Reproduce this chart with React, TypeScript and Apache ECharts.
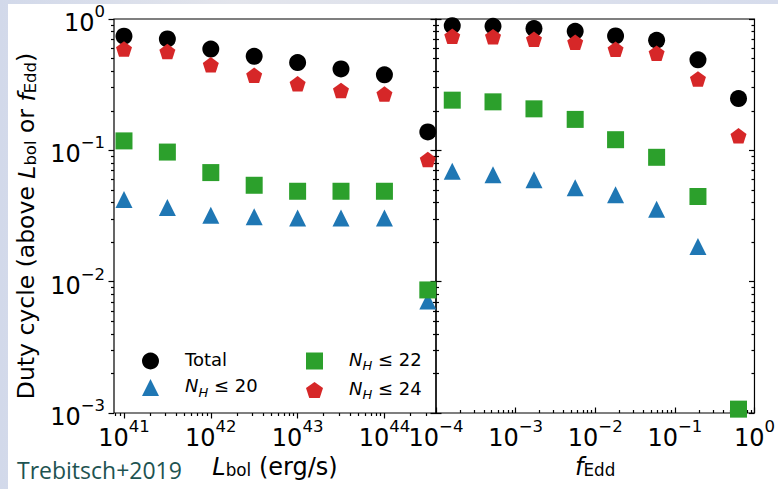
import React, { useEffect, useRef } from 'react';
import * as echarts from 'echarts';

// Bin centres of the two samples
const lbolValues = [1e41, 3.16e41, 1e42, 3.16e42, 1e43, 3.16e43, 1e44, 3.16e44];
const fEddValues = [1.6e-4, 5.2e-4, 1.7e-3, 5.6e-3, 1.8e-2, 5.9e-2, 0.195, 0.63];

// Duty cycle above a given bolometric luminosity
const totalByLbol = [0.74, 0.705, 0.59, 0.52, 0.466, 0.417, 0.376, 0.138];
const nh20ByLbol = [0.0422, 0.0367, 0.032, 0.0312, 0.0306, 0.0306, 0.0306, 0.00713];
const nh22ByLbol = [0.118, 0.097, 0.0677, 0.0542, 0.0488, 0.0488, 0.0488, 0.00865];
const nh24ByLbol = [0.59, 0.565, 0.448, 0.373, 0.321, 0.286, 0.268, 0.085];

// Duty cycle above a given Eddington ratio
const totalByFEdd = [0.89, 0.88, 0.845, 0.806, 0.743, 0.689, 0.489, 0.248];
const nh20ByFEdd = [0.0693, 0.0653, 0.0596, 0.052, 0.0458, 0.0356, 0.0185, null];
const nh22ByFEdd = [0.241, 0.234, 0.207, 0.172, 0.1205, 0.0885, 0.0445, 0.00107];
const nh24ByFEdd = [0.738, 0.734, 0.7, 0.665, 0.588, 0.549, 0.35, 0.129];

// Axis ranges and labelled ticks
const lbolRange = [10 ** 40.885, 10 ** 44.594];
const fEddRange = [1e-4, 1];
const dutyRange = [1e-3, 1];
const lbolMajorTicks = [1e41, 1e42, 1e43, 1e44];
const fEddMajorTicks = [1e-4, 1e-3, 1e-2, 1e-1, 1];
const dutyMajorTicks = [1e-3, 1e-2, 1e-1, 1];

const seriesNames = ['Total', 'N_H ≤ 20', 'N_H ≤ 22', 'N_H ≤ 24'];
const seriesColors = ['#000000', '#1f77b4', '#2ca02c', '#d62728'];

const FONT = '"DejaVu Sans", sans-serif';
const PENTAGON =
  'path://M0,-1L0.951,-0.309L0.588,0.809L-0.588,0.809L-0.951,-0.309Z';

// 2..9 x 10^n positions strictly inside a log range
function minorTicks(lo: number, hi: number): number[] {
  const out: number[] = [];
  for (let e = Math.floor(Math.log10(lo)); e <= Math.ceil(Math.log10(hi)); e++) {
    for (let k = 2; k <= 9; k++) {
      const v = k * Math.pow(10, e);
      if (v > lo && v < hi) out.push(v);
    }
  }
  return out;
}

function powerLabel(v: number): string {
  const e = Math.round(Math.log10(v));
  const s = e < 0 ? '\u2212' + -e : String(e);
  return `{b|10}{e|${s}}`;
}

const powRich = {
  b: { fontSize: 24, lineHeight: 32, verticalAlign: 'bottom', fontFamily: FONT, color: '#000' },
  e: { fontSize: 16.5, lineHeight: 21, verticalAlign: 'top', fontFamily: FONT, color: '#000' },
};

function nameRich(size: number) {
  return {
    t: { fontSize: size, lineHeight: 30, verticalAlign: 'bottom', fontFamily: FONT, color: '#000' },
    i: { fontSize: size, lineHeight: 30, verticalAlign: 'bottom', fontStyle: 'italic', fontFamily: FONT, color: '#000' },
    s: { fontSize: size * 0.7, lineHeight: 12, verticalAlign: 'bottom', fontFamily: FONT, color: '#000' },
  };
}

const legendRich = {
  t: { fontSize: 18, lineHeight: 22, verticalAlign: 'top', fontFamily: FONT, color: '#000' },
  i: { fontSize: 18, lineHeight: 22, verticalAlign: 'top', fontStyle: 'italic', fontFamily: FONT, color: '#000' },
  s: { fontSize: 13, lineHeight: 17, verticalAlign: 'bottom', fontStyle: 'italic', fontFamily: FONT, color: '#000' },
};

function legendLabel(name: string): string {
  if (name.startsWith('N_H')) return `{i|N}{s|H}{t|${name.slice(3)}}`;
  return `{t|${name}}`;
}

const tickLine = { color: '#000', width: 1.2 };

function logAxis(gridIndex: number, range: number[], position: string, extra: any) {
  return {
    type: 'log',
    logBase: 10,
    gridIndex,
    position,
    min: range[0],
    max: range[1],
    axisLine: { show: false },
    splitLine: { show: false },
    axisLabel: { show: false },
    ...extra,
  };
}

function majorTicks(values: number[], inside: boolean) {
  return { show: true, inside, length: 5.5, lineStyle: tickLine, customValues: values };
}
function minorTickStyle(values: number[], inside: boolean) {
  return { show: true, inside, length: 3, lineStyle: tickLine, customValues: values };
}

function buildOption() {
  const yMinor = minorTicks(dutyRange[0], dutyRange[1]);
  const lMinor = minorTicks(lbolRange[0], lbolRange[1]);
  const fMinor = minorTicks(fEddRange[0], fEddRange[1]);

  const byLbol = [totalByLbol, nh20ByLbol, nh22ByLbol, nh24ByLbol];
  const byFEdd = [totalByFEdd, nh20ByFEdd, nh22ByFEdd, nh24ByFEdd];
  const symbols = ['circle', 'triangle', 'rect', PENTAGON];
  const sizes: any[] = [17, 17, 17, [16, 15.5]];

  const pairs = (xs: number[], ys: (number | null)[]) =>
    xs.map((x, i) => [x, ys[i]]).filter((p) => p[1] != null);

  const series: any[] = [];
  seriesNames.forEach((name, k) => {
    const common = {
      type: 'scatter',
      name,
      symbol: symbols[k],
      symbolSize: sizes[k],
      itemStyle: { color: seriesColors[k], opacity: 1 },
      emphasis: { disabled: true },
    };
    series.push({ ...common, xAxisIndex: 0, yAxisIndex: 0, data: pairs(lbolValues, byLbol[k]) });
    series.push({ ...common, xAxisIndex: 2, yAxisIndex: 4, data: pairs(fEddValues, byFEdd[k]) });
  });

  const legendBase = {
    orient: 'vertical',
    itemWidth: 17,
    itemHeight: 17,
    itemGap: 7,
    padding: 0,
    selectedMode: false,
    formatter: legendLabel,
    textStyle: { fontFamily: FONT, fontSize: 18, color: '#000', padding: [0, 0, 0, 21], rich: legendRich },
  };

  return {
    animation: false,
    textStyle: { fontFamily: FONT },
    grid: [
      { left: 114, top: 19, width: 322, height: 394, show: true, borderColor: '#000', borderWidth: 1.2, backgroundColor: 'transparent' },
      { left: 436, top: 19, width: 322, height: 394, show: true, borderColor: '#000', borderWidth: 1.2, backgroundColor: 'transparent' },
    ],
    xAxis: [
      logAxis(0, lbolRange, 'bottom', {
        axisTick: majorTicks(lbolMajorTicks, false),
        axisLabel: { show: true, customValues: lbolMajorTicks, formatter: powerLabel, margin: 5, rich: powRich },
        name: '{i|L}{s|bol}{t| (erg/s)}',
        nameLocation: 'middle',
        nameGap: 31,
        nameTextStyle: { rich: nameRich(24) },
      }),
      logAxis(0, lbolRange, 'bottom', { axisTick: minorTickStyle(lMinor, false) }),
      logAxis(1, fEddRange, 'bottom', {
        axisTick: majorTicks(fEddMajorTicks, true),
        axisLabel: { show: true, customValues: fEddMajorTicks, formatter: powerLabel, margin: 5, rich: powRich },
        name: '{i|f}{s|Edd}',
        nameLocation: 'middle',
        nameGap: 31,
        nameTextStyle: { rich: nameRich(24) },
      }),
      logAxis(1, fEddRange, 'bottom', { axisTick: minorTickStyle(fMinor, true) }),
    ],
    yAxis: [
      logAxis(0, dutyRange, 'left', {
        axisTick: majorTicks(dutyMajorTicks, false),
        axisLabel: { show: true, customValues: dutyMajorTicks, formatter: powerLabel, margin: 9, rich: powRich },
        name: '{t|Duty cycle (above }{i|L}{s|bol}{t| or }{i|f}{s|Edd}{t|)}',
        nameLocation: 'middle',
        nameGap: 76,
        nameRotate: 90,
        nameTextStyle: { rich: nameRich(23.5), padding: [0, 20, 0, 0] },
      }),
      logAxis(0, dutyRange, 'left', { axisTick: minorTickStyle(yMinor, false) }),
      logAxis(0, dutyRange, 'right', { axisTick: majorTicks(dutyMajorTicks, true) }),
      logAxis(0, dutyRange, 'right', { axisTick: minorTickStyle(yMinor, true) }),
      logAxis(1, dutyRange, 'left', { axisTick: majorTicks(dutyMajorTicks, true) }),
      logAxis(1, dutyRange, 'left', { axisTick: minorTickStyle(yMinor, true) }),
      logAxis(1, dutyRange, 'right', { axisTick: majorTicks(dutyMajorTicks, true) }),
      logAxis(1, dutyRange, 'right', { axisTick: minorTickStyle(yMinor, true) }),
    ],
    legend: [
      { ...legendBase, data: [seriesNames[0], seriesNames[1]], left: 142, top: 350 },
      { ...legendBase, data: [seriesNames[2], seriesNames[3]], left: 306, top: 350 },
    ],
    graphic: [
      {
        type: 'rect',
        silent: true,
        z: -10,
        shape: { x: 8, y: 4, width: 770, height: 485 },
        style: { fill: '#ffffff' },
      },
      {
        type: 'text',
        left: 17,
        top: 458,
        style: { text: 'Trebitsch+2019', font: '23px "Open Sans"', fill: '#1e5351' },
      },
    ],
    series,
  };
}

export default function App() {
  const ref = useRef<HTMLDivElement>(null);
  useEffect(() => {
    if (!ref.current) return;
    const chart = echarts.init(ref.current, null, { renderer: 'svg' });
    chart.setOption(buildOption() as any);
    return () => chart.dispose();
  }, []);
  return (
    <div
      style={{
        position: 'fixed',
        left: 0,
        top: 0,
        width: 778,
        height: 489,
        background: 'linear-gradient(90deg, #d2d9ea 0%, #e3e5ec 30%, #d6dcec 100%)',
      }}
    >
      <div ref={ref} style={{ width: 778, height: 489 }} />
    </div>
  );
}
